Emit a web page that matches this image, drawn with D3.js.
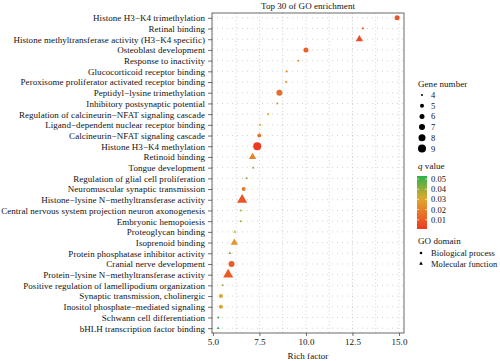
<!DOCTYPE html>
<html>
<head>
<meta charset="utf-8">
<script src="https://cdn.jsdelivr.net/npm/d3@7"></script>
<style>
  body { margin: 0; background: #fff; }
  svg text { font-family: "Liberation Serif", "DejaVu Serif", serif; fill: #111; letter-spacing: 0.05px; }
  .axis path { display: none; }
  .axis line { stroke: #333; stroke-width: 0.7; }
  .axis text { font-size: 9px; }
</style>
</head>
<body>
<div id="chart"></div>
<script>
// GO terms, top to bottom
var terms = [
  "Histone H3\u2212K4 trimethylation",
  "Retinal binding",
  "Histone methyltransferase activity (H3\u2212K4 specific)",
  "Osteoblast development",
  "Response to inactivity",
  "Glucocorticoid receptor binding",
  "Peroxisome proliferator activated receptor binding",
  "Peptidyl\u2212lysine trimethylation",
  "Inhibitory postsynaptic potential",
  "Regulation of calcineurin\u2212NFAT signaling cascade",
  "Ligand\u2212dependent nuclear receptor binding",
  "Calcineurin\u2212NFAT signaling cascade",
  "Histone H3\u2212K4 methylation",
  "Retinoid binding",
  "Tongue development",
  "Regulation of glial cell proliferation",
  "Neuromuscular synaptic transmission",
  "Histone\u2212lysine N\u2212methyltransferase activity",
  "Central nervous system projection neuron axonogenesis",
  "Embryonic hemopoiesis",
  "Proteoglycan binding",
  "Isoprenoid binding",
  "Protein phosphatase inhibitor activity",
  "Cranial nerve development",
  "Protein\u2212lysine N\u2212methyltransferase activity",
  "Positive regulation of lamellipodium organization",
  "Synaptic transmission, cholinergic",
  "Inositol phosphate\u2212mediated signaling",
  "Schwann cell differentiation",
  "bHLH transcription factor binding"
];
var richFactor = [14.9, 13.06, 12.87, 10.0, 9.59, 8.96, 8.93, 8.57, 8.46, 7.97,
                  7.53, 7.49, 7.38, 7.13, 7.17, 6.81, 6.65, 6.57, 6.49, 6.49,
                  6.18, 6.15, 5.91, 6.0, 5.82, 5.52, 5.43, 5.43, 5.29, 5.28];
var geneNumber = [6, 4, 6, 6, 4, 4, 4, 7, 4, 4,
                  4, 5, 9, 6, 4, 4, 5, 8, 4, 4,
                  4, 6, 4, 7, 8, 4, 5, 5, 4, 4];
var qValue = [0.008, 0.01, 0.006, 0.012, 0.02, 0.025, 0.025, 0.015, 0.02, 0.025,
              0.03, 0.017, 0.001, 0.02, 0.04, 0.04, 0.018, 0.008, 0.04, 0.04,
              0.035, 0.025, 0.042, 0.01, 0.01, 0.042, 0.03, 0.03, 0.05, 0.052];
var domainType = ["BP", "MF", "MF", "BP", "BP", "MF", "MF", "BP", "BP", "BP",
                  "MF", "BP", "BP", "MF", "BP", "BP", "BP", "MF", "BP", "BP",
                  "MF", "MF", "MF", "BP", "MF", "BP", "BP", "BP", "BP", "MF"];
var xTicks = [5, 7.5, 10, 12.5, 15];
var sizeLegend = [4, 5, 6, 7, 8, 9];
var qTicks = [0.05, 0.04, 0.03, 0.02, 0.01];
var domainLegend = [["BP", "Biological process"], ["MF", "Molecular function"]];

var data = terms.map(function(t, i) {
  return { term: t, rich: richFactor[i], genes: geneNumber[i], q: qValue[i], dom: domainType[i] };
});

var W = 500, H = 361;
var panel = { left: 212, right: 404, top: 13, bottom: 333 };

var svg = d3.select("#chart").append("svg")
  .attr("width", W).attr("height", H);

var x = d3.scaleLinear().domain([4.95, 15.27]).range([panel.left, panel.right]);
var y = d3.scalePoint().domain(terms).range([panel.top, panel.bottom]).padding(0.45);
var r = d3.scaleLinear().domain([4, 5, 9]).range([1, 2, 4]);
var color = d3.scaleLinear().domain([0.0009, 0.031, 0.053])
  .range(["#ef3a22", "#e0aa2c", "#2bb14a"]).interpolate(d3.interpolateRgb);

function symbolPath(dom, n) {
  var area = Math.PI * r(n) * r(n);
  var type = dom === "MF" ? d3.symbolTriangle : d3.symbolCircle;
  return d3.symbol().type(type).size(dom === "MF" ? area * 1.15 : area)();
}

// grid
var gridX = d3.range(5, 15.01, 1.25);
svg.append("g").selectAll("line").data(gridX).enter().append("line")
  .attr("x1", function(d) { return x(d); }).attr("x2", function(d) { return x(d); })
  .attr("y1", panel.top).attr("y2", panel.bottom)
  .attr("stroke", "#b5b5b5").attr("stroke-width", 0.6).attr("stroke-dasharray", "1,2.5");
svg.append("g").selectAll("line").data(terms).enter().append("line")
  .attr("x1", panel.left).attr("x2", panel.right)
  .attr("y1", function(d) { return y(d); }).attr("y2", function(d) { return y(d); })
  .attr("stroke", "#b5b5b5").attr("stroke-width", 0.6).attr("stroke-dasharray", "1,4");

// points
svg.append("g").selectAll("path").data(data).enter().append("path")
  .attr("transform", function(d) { return "translate(" + x(d.rich) + "," + y(d.term) + ")"; })
  .attr("d", function(d) { return symbolPath(d.dom, d.genes); })
  .attr("fill", function(d) { return color(d.q); });

// panel border
svg.append("rect")
  .attr("x", panel.left).attr("y", panel.top)
  .attr("width", panel.right - panel.left).attr("height", panel.bottom - panel.top)
  .attr("fill", "none").attr("stroke", "#444").attr("stroke-width", 0.8);

// axes
svg.append("g").attr("class", "axis")
  .attr("transform", "translate(" + panel.left + ",0)")
  .call(d3.axisLeft(y).tickSize(4).tickPadding(3));
svg.append("g").attr("class", "axis")
  .attr("transform", "translate(0," + panel.bottom + ")")
  .call(d3.axisBottom(x).tickValues(xTicks).tickFormat(d3.format(".1f")).tickSize(3).tickPadding(3));

svg.append("text")
  .attr("x", (panel.left + panel.right) / 2).attr("y", 9)
  .attr("text-anchor", "middle").style("font-size", "9px")
  .text("Top 30 of GO enrichment");
svg.append("text")
  .attr("x", (panel.left + panel.right) / 2).attr("y", 359)
  .attr("text-anchor", "middle").style("font-size", "9px")
  .text("Rich factor");

// legend: gene number
var lx = 418;
svg.append("text").attr("x", lx).attr("y", 87).style("font-size", "9px").text("Gene number");
var sg = svg.append("g").selectAll("g").data(sizeLegend).enter().append("g")
  .attr("transform", function(d, i) { return "translate(0," + (95 + i * 10.7) + ")"; });
sg.append("path")
  .attr("transform", "translate(422,0)")
  .attr("d", function(d) { return symbolPath("BP", d); })
  .attr("fill", "#000");
sg.append("text").attr("x", 431).attr("y", 3).style("font-size", "8.5px").text(function(d) { return d; });

// legend: q value colour bar
var qy = d3.scaleLinear().domain([0.0009, 0.053]).range([229, 176]);
var defs = svg.append("defs");
var grad = defs.append("linearGradient").attr("id", "qgrad")
  .attr("x1", 0).attr("y1", 1).attr("x2", 0).attr("y2", 0);
d3.range(0, 1.001, 0.1).forEach(function(t) {
  var v = 0.0009 + t * (0.053 - 0.0009);
  grad.append("stop").attr("offset", t).attr("stop-color", color(v));
});
var qt = svg.append("text").attr("x", lx).attr("y", 169).style("font-size", "9px");
qt.append("tspan").style("font-style", "italic").text("q");
qt.append("tspan").text(" value");
svg.append("rect").attr("x", 417).attr("y", qy(0.053)).attr("width", 10)
  .attr("height", qy(0.0009) - qy(0.053)).attr("fill", "url(#qgrad)");
var qg = svg.append("g").selectAll("g").data(qTicks).enter().append("g");
qg.append("line").attr("x1", 417).attr("x2", 419)
  .attr("y1", function(d) { return qy(d); }).attr("y2", function(d) { return qy(d); })
  .attr("stroke", "#fff").attr("stroke-width", 0.6);
qg.append("line").attr("x1", 425).attr("x2", 427)
  .attr("y1", function(d) { return qy(d); }).attr("y2", function(d) { return qy(d); })
  .attr("stroke", "#fff").attr("stroke-width", 0.6);
qg.append("text").attr("x", 431).attr("y", function(d) { return qy(d) + 3; })
  .style("font-size", "8.5px").text(function(d) { return d3.format(".2f")(d); });

// legend: GO domain
svg.append("text").attr("x", lx).attr("y", 244).style("font-size", "9px").text("GO domain");
var dg = svg.append("g").selectAll("g").data(domainLegend).enter().append("g")
  .attr("transform", function(d, i) { return "translate(0," + (253 + i * 10.7) + ")"; });
dg.append("path").attr("transform", "translate(421,0)")
  .attr("d", function(d) { return symbolPath(d[0], 4.3); })
  .attr("fill", "#000");
dg.append("text").attr("x", 431).attr("y", 3).style("font-size", "8.5px").text(function(d) { return d[1]; });
</script>
</body>
</html>
